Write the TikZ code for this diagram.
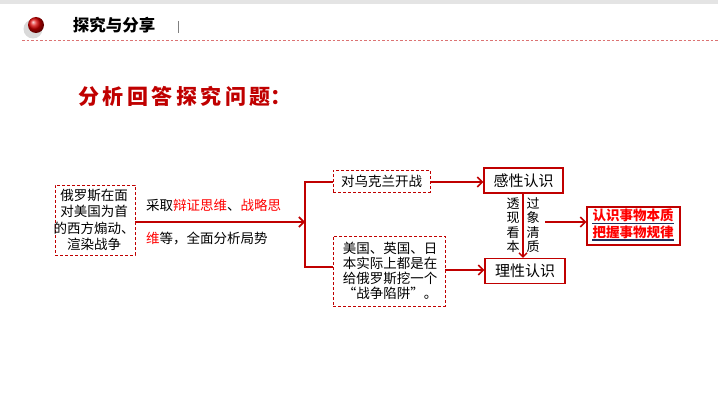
\documentclass[tikz,border=0pt]{standalone}
\usepackage{fontspec}
\setmainfont{Noto Sans CJK SC}
\usetikzlibrary{arrows.meta,shadows}
\definecolor{dred}{HTML}{C00000}
\definecolor{bred}{HTML}{FF0000}
\definecolor{navy}{HTML}{1F2D5A}
\definecolor{lgray}{HTML}{E4E4E4}
\begin{document}
\begin{tikzpicture}[x=1pt,y=-1pt,
  txt/.style={font=\fontsize{13.5}{16.5}\selectfont, inner sep=0pt, align=center},
  dbox/.style={draw=dred, densely dashed, line width=0.6pt, inner sep=0pt},
  sbox/.style={draw=dred, line width=1.2pt, inner sep=0pt, minimum height=25pt, font=\fontsize{15}{15}\selectfont},
  arr/.style={draw=dred, line width=2pt, -{Straight Barb[length=5pt,width=10pt,line width=1.6pt]}},
  thin/.style={draw=dred, line width=1.3pt}]
\useasboundingbox (0,0) rectangle (718,409);
\fill[white] (0,0) rectangle (718,409);
\fill[lgray] (0,0) rectangle (718,4);
% header
\fill[gray!30] (33,29) circle (9.5);
\shade[ball color=red!85!black] (36,25) circle (8);
\draw[color=dred!55, line width=1pt, dash pattern=on 2.5pt off 2pt] (22,41) -- (718,41);
\node[font=\fontsize{16.5}{16.5}\selectfont\bfseries, inner sep=0pt] (title) at (114,25) {探究与分享};
\draw[gray, line width=0.6pt] (178,21) -- (178,33);
\node[font=\fontsize{21}{21}\selectfont\bfseries, text=dred, inner sep=0pt] (q) at (185,96) {分\,析\,回\,答\,探\,究\,问\,题：};
% left box
\node[dbox, minimum width=80pt, minimum height=70pt] (a) at (95,220) {};
\node[txt] (at) at (94,220) {俄罗斯在面\\对美国为首\\的西方煽动、\\渲染战争};
\node[txt, anchor=west] (t1) at (146,205) {采取{\color{bred}辩证思维}、{\color{bred}战略思}};
\node[txt, anchor=west] (t2) at (146,238) {{\color{bred}维}等，全面分析局势};
\coordinate (j) at (305,222);
\draw[arr] (a.east |- j) -- (j);
% branch boxes
\node[dbox, minimum width=97pt, minimum height=22pt, font=\fontsize{13.5}{15}\selectfont] (b) at (381.5,181) {对乌克兰开战};
\node[dbox, minimum width=112pt, minimum height=70pt] (c) at (389,271) {};
\node[txt, font=\fontsize{13.5}{15}\selectfont] (ct) at (390,271) {美国、英国、日\\本实际上都是在\\给俄罗斯挖一个\\“战争陷阱”。};
\coordinate (jt) at (305,182);
\coordinate (jb) at (305,267);
\draw[thin] (b.west |- jt) -- (jt) -- (jb) -- (c.west |- jb);
% cognition boxes
\node[sbox, minimum width=79pt] (d) at (523.5,180.5) {感性认识};
\node[sbox, minimum width=80pt] (e) at (525,271) {理性认识};
\draw[arr] (b.east |- 0,182) -- (d.west |- 0,182);
\draw[arr] (c.east |- 0,270) -- (e.west |- 0,270);
\draw[draw=dred, line width=1.5pt, -{Straight Barb[length=4pt,width=8pt,line width=1.4pt]}] (d.south -| 523,0) -- (e.north -| 523,0);
\node[font=\fontsize{13}{14.5}\selectfont, inner sep=0pt, align=center] (v1) at (513,225) {透\\现\\看\\本};
\node[font=\fontsize{13}{14.5}\selectfont, inner sep=0pt, align=center] (v2) at (533,225) {过\\象\\清\\质};
% result
\node[draw=dred, line width=1.2pt, minimum width=93pt, minimum height=38pt, inner sep=0pt] (f) at (633.5,226) {};
\node[font=\fontsize{13.5}{13.5}\selectfont\bfseries, text=bred, inner sep=0pt] (f1) at (633,215.5) {认识事物本质};
\node[font=\fontsize{13.5}{13.5}\selectfont\bfseries, text=bred, inner sep=0pt] (f2) at (633,232) {把握事物规律};
\draw[navy, line width=1.8pt] ([yshift=-1.2pt]f1.south west) -- ([yshift=-1.2pt]f1.south east);
\draw[navy, line width=1.8pt] ([yshift=-1.2pt]f2.south west) -- ([yshift=-1.2pt]f2.south east);
\coordinate (g) at (545,222);
\draw[arr, line width=1.6pt] (g) -- (f.west |- g);
\end{tikzpicture}
\end{document}
